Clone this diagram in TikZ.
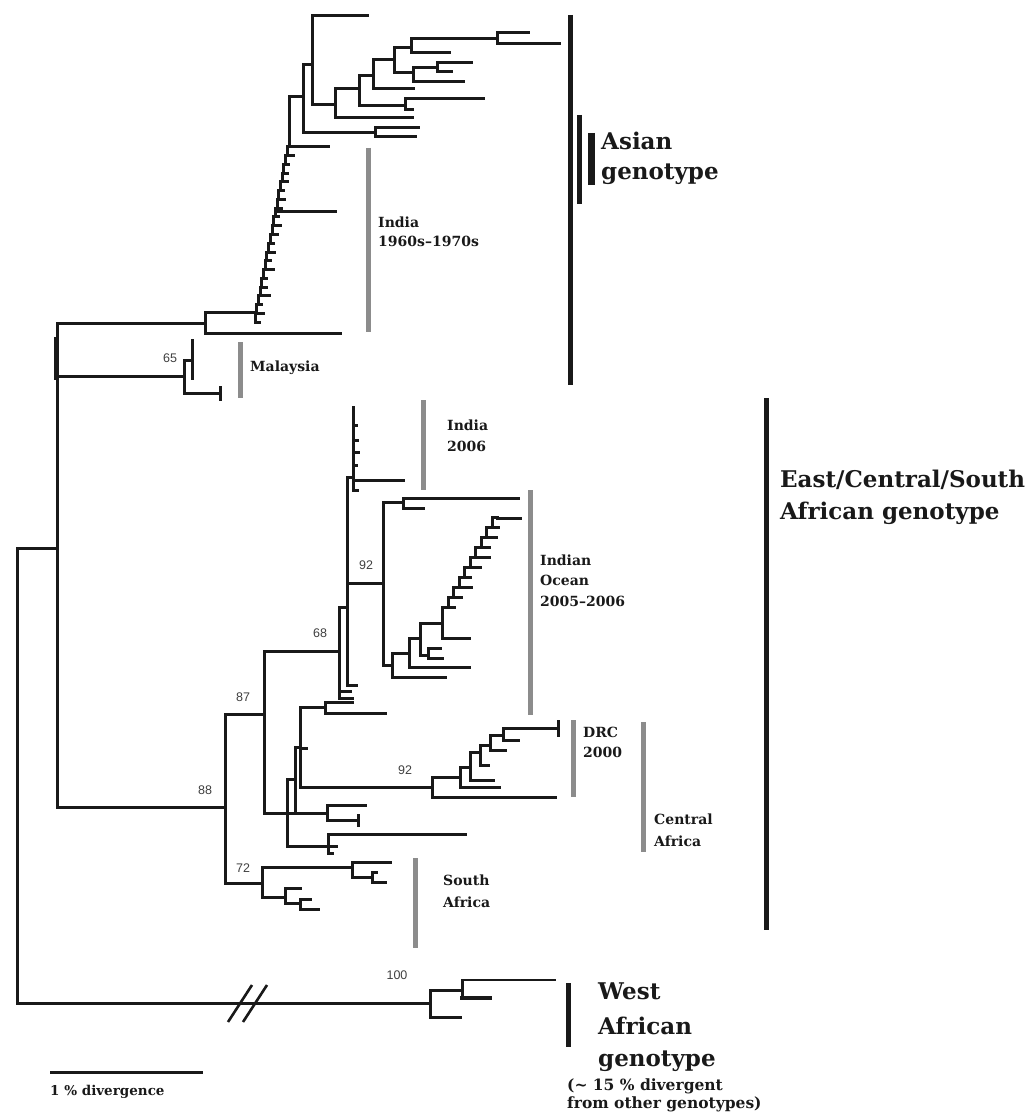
\documentclass[tikz,border=0pt]{standalone}
\usepackage{fontspec}
\setmainfont{DejaVu Serif}
\newfontfamily\numfont{Liberation Sans}
\tikzset{
 tree/.style={line width=3pt, line cap=rect, line join=miter, color=black!90},
 gbar/.style={line width=5pt, color=black!45},
 bbar/.style={line width=5pt, color=black!90},
 lab/.style={font=\bfseries\fontsize{14}{15}\selectfont, anchor=base west, inner sep=0pt, text=black!90},
 biglab/.style={font=\bfseries\fontsize{23}{24}\selectfont, anchor=base west, inner sep=0pt, text=black!90},
 capt/.style={font=\bfseries\fontsize{15.5}{16}\selectfont, anchor=base west, inner sep=0pt, text=black!90},
 num/.style={font=\numfont\fontsize{12.5}{13}\selectfont, text=black!75, inner sep=0pt},
}
% bracket: x, ytop, ybot, xtopEnd, xbotEnd
\newcommand\cladebr[5]{\draw[tree] (#4,#2) -- (#1,#2) -- (#1,#3) -- (#5,#3);}
% ladder: x0, y0, dx, dy, stub lengths
\newcommand\cladeladder[5]{%
 \foreach \L [count=\k from 0] in {#5} {
   \pgfmathsetmacro\xa{#1+#3*\k}
   \pgfmathsetmacro\ya{#2+#4*\k}
   \pgfmathsetmacro\xb{#1+#3*(\k+1)}
   \pgfmathsetmacro\yb{#2+#4*(\k+1)}
   \draw[tree] (\xa,\ya) -- (\xa,\yb) -- (\xb,\yb);
   \draw[tree] (\xa,\ya) -- ++(\L,0);
 }}
\begin{document}
\begin{tikzpicture}[x=1pt,y=-1pt]
\useasboundingbox (0,0) rectangle (1032,1115);
\fill[white] (0,0) rectangle (1032,1115);

% ---------- root ----------
\cladebr{17}{548}{1003}{57}{430}
\cladebr{57}{323}{807}{205}{225}
\draw[tree] (57,376) -- (184,376);
\draw[tree] (55,338) -- (55,378);

% ---------- Malaysia ----------
\cladebr{184}{360}{393}{192}{220}
\draw[tree] (192,340) -- (192,378);
\draw[tree] (220,387) -- (220,399);

% ---------- Asian ----------
\cladebr{205}{312}{333}{255}{340}
\cladeladder{255}{322}{1.7}{-8.75}{4,7,3,9,5,3,8,4,6,3,5,7,3,4,6,3,5,4,3,6}
\draw[tree] (277,202) -- (277,212) -- (335,212);
\cladebr{289}{97}{147}{303}{328}
\cladebr{303}{65}{133}{312}{375}
\cladebr{375}{128}{137}{418}{415}
\cladebr{312}{16}{105}{367}{335}
\cladebr{335}{89}{118}{359}{412}
\cladebr{359}{76}{106}{373}{405}
\cladebr{405}{99}{110}{483}{412}
\cladebr{373}{60}{89}{394}{413}
\cladebr{394}{48}{73}{411}{413}
\cladebr{413}{68}{82}{437}{463}
\cladebr{437}{63}{72}{471}{451}
\cladebr{411}{39}{53}{497}{449}
\cladebr{497}{33}{44}{528}{559}

% ---------- ECSA ----------
\cladebr{225}{714}{883}{264}{262}
\cladebr{264}{651}{813}{339}{287}
% node 68
\cladebr{339}{607}{698}{347}{352}
\draw[tree] (339,691) -- (350,691);
\cladebr{347}{477}{685}{353}{356}
\draw[tree] (347,583) -- (383,583);
% India 2006
\cladebr{353}{407}{490}{353}{357}
\draw[tree] (353,480) -- (403,480);
\draw[tree] (353,425) -- (356,425);
\draw[tree] (353,440) -- (357,440);
\draw[tree] (353,452) -- (358,452);
\draw[tree] (353,465) -- (356,465);
% Indian Ocean
\cladebr{383}{502}{665}{403}{392}
\cladebr{403}{498}{508}{518}{423}
\cladebr{392}{653}{677}{409}{445}
\cladebr{409}{638}{667}{420}{469}
\cladebr{420}{623}{655}{442}{428}
\cladebr{428}{648}{658}{440}{442}
\cladebr{442}{607}{638}{448}{469}
\cladeladder{448}{607}{5.5}{-9.9}{6,8,12,6,10,14,8,10,6}
\draw[tree] (497.5,518) -- (520,518);
% Central Africa
\cladebr{287}{779}{846}{295}{328}
\draw[tree] (287,813) -- (295,813);
\cladebr{295}{747}{813}{300}{327}
\cladebr{300}{707}{787}{325}{432}
\draw[tree] (300,748) -- (306,748);
\cladebr{325}{702}{713}{352}{385}
\cladebr{327}{805}{820}{365}{358}
\draw[tree] (358,815) -- (358,825);
\cladebr{328}{834}{853}{465}{332}
\draw[tree] (328,846) -- (336,846);
% DRC
\cladebr{432}{777}{797}{460}{555}
\cladebr{460}{767}{787}{470}{499}
\cladebr{470}{752}{780}{480}{493}
\cladebr{480}{745}{765}{490}{488}
\cladebr{490}{735}{750}{503}{505}
\cladebr{503}{728}{740}{558}{518}
\draw[tree] (558,721) -- (558,735);
% South Africa
\cladebr{262}{867}{897}{352}{285}
\cladebr{352}{862}{877}{390}{372}
\cladebr{372}{872}{882}{376}{385}
\cladebr{285}{888}{903}{300}{300}
\cladebr{300}{899}{909}{310}{318}

% ---------- West African ----------
\cladebr{430}{990}{1017}{462}{460}
\draw[tree] (462,980) -- (462,998);
\draw[tree, line width=2.2pt] (462,980) -- (555,980);
\draw[tree, line width=4.2pt] (462,998) -- (490,998);
\draw[tree, line width=2.6pt, line cap=butt] (228,1022) -- (252,985);
\draw[tree, line width=2.6pt, line cap=butt] (243,1022) -- (267,985);

% ---------- scale bar ----------
\draw[tree, line width=3pt, line cap=butt] (50,1072) -- (203,1072);
\node[capt, font=\bfseries\fontsize{13.5}{14}\selectfont] (lscale) at (50,1095) {1 \% divergence};

% ---------- bars ----------
\draw[bbar] (570,15) -- (570,385);
\draw[bbar] (579,115) -- (579,204);
\draw[bbar, line width=7pt] (591,133) -- (591,185);
\draw[bbar] (766,398) -- (766,930);
\draw[bbar] (568,983) -- (568,1047);

\draw[gbar] (368,148) -- (368,332);
\draw[gbar] (240,342) -- (240,398);
\draw[gbar] (423,400) -- (423,490);
\draw[gbar] (530,490) -- (530,715);
\draw[gbar] (573,720) -- (573,797);
\draw[gbar] (643,722) -- (643,852);
\draw[gbar] (415,858) -- (415,948);

% ---------- labels ----------
\node[lab] (lIndA1) at (378,228) {India};
\node[lab] (lIndA2) at (378,247) {1960s–1970s};
\node[lab] (lMal) at (250,371) {Malaysia};
\node[lab] (lInd1) at (447,430) {India};
\node[lab] (lInd2) at (447,451) {2006};
\node[lab] (lIO1) at (540,565) {Indian};
\node[lab] (lIO2) at (540,585) {Ocean};
\node[lab] (lIO3) at (540,606) {2005–2006};
\node[lab] (lDRC1) at (583,737) {DRC};
\node[lab] (lDRC2) at (583,757) {2000};
\node[lab] (lCA1) at (654,824) {Central};
\node[lab] (lCA2) at (654,846) {Africa};
\node[lab] (lSA1) at (443,885) {South};
\node[lab] (lSA2) at (443,907) {Africa};

\node[biglab] (lAs1) at (601,150) {Asian};
\node[biglab] (lAs2) at (601,180) {genotype};
\node[biglab] (lEC1) at (780,487) {East/Central/South};
\node[biglab] (lEC2) at (780,519) {African genotype};
\node[biglab] (lW1) at (598,999) {West};
\node[biglab] (lW2) at (598,1034) {African};
\node[biglab] (lW3) at (598,1066) {genotype};
\node[capt] (lW4) at (567,1090) {(\textasciitilde{} 15 \% divergent};
\node[capt] (lW5) at (567,1108) {from other genotypes)};

% ---------- support values ----------
\node[num] (n65) at (170,358) {65};
\node[num] (n92a) at (366,565) {92};
\node[num] (n68) at (320,633) {68};
\node[num] (n87) at (243,697) {87};
\node[num] (n88) at (205,790) {88};
\node[num] (n92b) at (405,770) {92};
\node[num] (n72) at (243,868) {72};
\node[num] (n100) at (397,975) {100};
\end{tikzpicture}
\end{document}
